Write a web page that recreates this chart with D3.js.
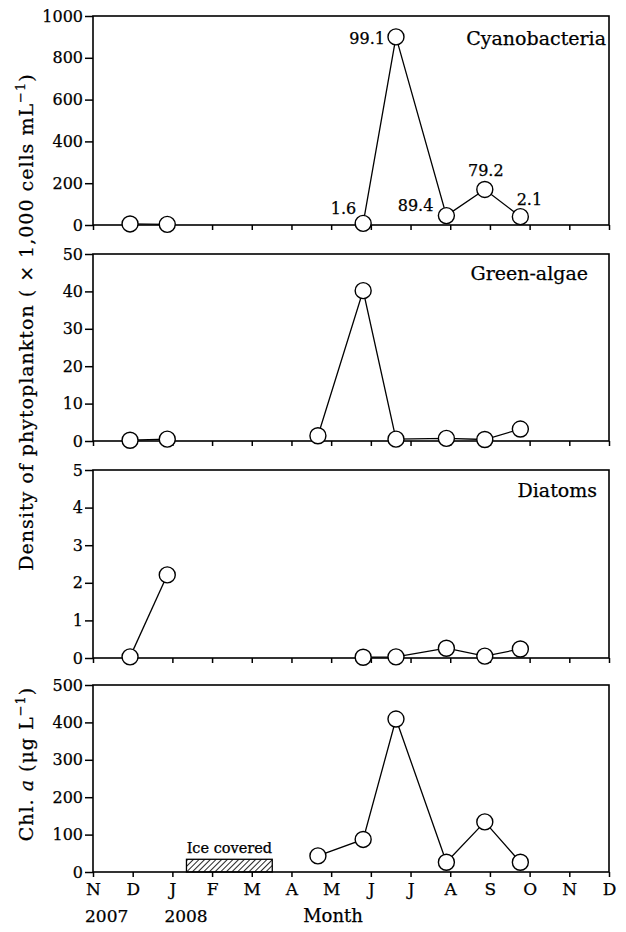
<!DOCTYPE html>
<html>
<head>
<meta charset="utf-8">
<script src="https://cdn.jsdelivr.net/npm/d3@7"></script>
<style>
body{margin:0;background:#fff;}
svg{display:block;}
text{font-family:"DejaVu Serif",serif;fill:#000;stroke:#000;stroke-width:0.25px;}
</style>
</head>
<body>
<div id="plot"></div>
<script>
// month ticks, Nov 2007 .. Dec 2008
var months = ['N','D','J','F','M','A','M','J','J','A','S','O','N','D'];
var years = [{i:0,label:'2007'},{i:2,label:'2008'}];

// sampling dates, and which sampling season they belong to (no line across winter)
var sampleDates = ['2007-11-29','2007-12-28','2008-04-21','2008-05-26','2008-06-20','2008-07-29','2008-08-28','2008-09-24'];
var season = [0,0,1,1,1,1,1,1];

var cyanobacteria = [5, 3, null, 8, 900, 45, 170, 40];
var greenAlgae = [0.2, 0.5, 1.4, 40.2, 0.5, 0.7, 0.4, 3.2];
var diatoms = [0.03, 2.21, null, 0.02, 0.03, 0.26, 0.05, 0.24];
var chlA = [null, null, 43, 87, 409, 26, 134, 26];

// % share of cyanobacteria written beside the points
var cyanoShare = [null, null, null, '1.6', '99.1', '89.4', '79.2', '2.1'];
var shareOffset = [null, null, null, [-7,-9,'end'], [-11,7,'end'], [-13,-5,'end'], [1,-13,'middle'], [9,-12,'middle']];

var iceCovered = ['2008-01-12','2008-03-17'];
var iceLevel = 34;

var panels = [
	{name:'Cyanobacteria', values:cyanobacteria, max:1000, step:200, top:16, bottom:225, titleX:606, titleY:45},
	{name:'Green-algae', values:greenAlgae, max:50, step:10, top:254, bottom:441, titleX:588, titleY:280},
	{name:'Diatoms', values:diatoms, max:5, step:1, top:470, bottom:658, titleX:597, titleY:497},
	{name:null, values:chlA, max:500, step:100, top:685, bottom:872}
];

var W = 626, H = 932,
	left = 93, right = 609;

// fractional month position counted from 1 Nov 2007
function monthPos(s){
	var p = s.split('-').map(Number);
	var dim = new Date(p[0], p[1], 0).getDate();
	return (p[0]-2007)*12 + (p[1]-11) + (p[2]-1)/dim;
}

var x = d3.scaleLinear().domain([0,13]).range([left,right]);

var svg = d3.select('#plot')
	.append('svg')
	.attr('width',W)
	.attr('height',H);

var defs = svg.append('defs');
defs.append('pattern')
	.attr('id','hatch')
	.attr('patternUnits','userSpaceOnUse')
	.attr('width',4).attr('height',4)
	.attr('patternTransform','rotate(45)')
	.append('line')
	.attr('x1',0).attr('y1',0).attr('x2',0).attr('y2',4)
	.attr('stroke','#000').attr('stroke-width',1.7);

panels.forEach(function(p, k){
	var y = d3.scaleLinear().domain([0,p.max]).range([p.bottom,p.top]);
	var g = svg.append('g');

	//ice bar goes under the axes
	if(k==3){
		var x0 = x(monthPos(iceCovered[0])), x1 = x(monthPos(iceCovered[1]));
		g.append('rect')
			.attr('x',x0).attr('y',y(iceLevel))
			.attr('width',x1-x0).attr('height',y(0)-y(iceLevel))
			.attr('fill','url(#hatch)')
			.attr('stroke','#000').attr('stroke-width',1.3);
		g.append('text')
			.attr('x',(x0+x1)/2).attr('y',y(iceLevel)-6)
			.attr('text-anchor','middle')
			.style('font-size','14.5px')
			.text('Ice covered');
	}

	var yAxis = d3.axisLeft(y)
		.tickValues(d3.range(0,p.max+p.step/2,p.step))
		.tickFormat(d3.format('d'))
		.tickSize(8).tickPadding(2);
	g.append('g')
		.attr('transform','translate('+left+',0)')
		.call(yAxis)
		.call(function(a){
			a.select('.domain').remove();
			a.selectAll('line').attr('stroke-width',1.5);
			a.selectAll('text').style('font-size','16px').style('font-family','"DejaVu Serif",serif');
		});

	var xAxis = d3.axisBottom(x)
		.tickValues(d3.range(0,14))
		.tickSize(5).tickPadding(6)
		.tickFormat(function(i){ return k==3 ? months[i] : ''; });
	g.append('g')
		.attr('transform','translate(0,'+p.bottom+')')
		.call(xAxis)
		.call(function(a){
			a.select('.domain').remove();
			a.selectAll('line').attr('stroke-width',1.5);
			a.selectAll('text').style('font-size','17px').style('font-family','"DejaVu Serif",serif');
		});

	//frame
	g.append('rect')
		.attr('x',left).attr('y',p.top)
		.attr('width',right-left).attr('height',p.bottom-p.top)
		.attr('fill','none').attr('stroke','#000').attr('stroke-width',1.6);

	var pts = sampleDates.map(function(d,i){
		return {x:monthPos(d), v:p.values[i], s:season[i], i:i};
	}).filter(function(d){ return d.v!=null; });

	var line = d3.line()
		.x(function(d){ return x(d.x); })
		.y(function(d){ return y(d.v); });

	d3.groups(pts, function(d){ return d.s; }).forEach(function(grp){
		g.append('path')
			.attr('d',line(grp[1]))
			.attr('fill','none')
			.attr('stroke','#000')
			.attr('stroke-width',1.3);
	});

	g.selectAll('circle')
		.data(pts)
		.enter().append('circle')
		.attr('cx',function(d){ return x(d.x); })
		.attr('cy',function(d){ return y(d.v); })
		.attr('r',8)
		.attr('fill','#fff')
		.attr('stroke','#000')
		.attr('stroke-width',1.4);

	if(p.name){
		g.append('text')
			.attr('x',p.titleX).attr('y',p.titleY)
			.attr('text-anchor','end')
			.style('font-size','19px')
			.text(p.name);
	}

	if(k==0){
		g.selectAll('.share')
			.data(pts.filter(function(d){ return cyanoShare[d.i]; }))
			.enter().append('text')
			.attr('class','share')
			.attr('x',function(d){ return x(d.x)+shareOffset[d.i][0]; })
			.attr('y',function(d){ return y(d.v)+shareOffset[d.i][1]; })
			.attr('text-anchor',function(d){ return shareOffset[d.i][2]; })
			.style('font-size','16px')
			.text(function(d){ return cyanoShare[d.i]; });
	}
});

//years under N and J
svg.selectAll('.year')
	.data(years)
	.enter().append('text')
	.attr('class','year')
	.attr('x',function(d){ return x(d.i)-8; })
	.attr('y',922)
	.style('font-size','17px')
	.text(function(d){ return d.label; });

svg.append('text')
	.attr('x',333).attr('y',922)
	.attr('text-anchor','middle')
	.style('font-size','18px')
	.text('Month');

//y labels
var yl = svg.append('text')
	.attr('transform','translate(33,322) rotate(-90)')
	.attr('text-anchor','middle')
	.style('font-size','19px')
	.style('letter-spacing','1px');
yl.append('tspan').text('Density of phytoplankton ( \u00d7 1,000 cells mL');
yl.append('tspan').attr('dy',-8).style('font-size','13px').text('\u22121');
yl.append('tspan').attr('dy',8).text(')');

var cl = svg.append('text')
	.attr('transform','translate(33,764) rotate(-90)')
	.attr('text-anchor','middle')
	.style('font-size','19px')
	.style('letter-spacing','1px');
cl.append('tspan').text('Chl. ');
cl.append('tspan').style('font-style','italic').text('a');
cl.append('tspan').text(' (\u03bcg L');
cl.append('tspan').attr('dy',-8).style('font-size','13px').text('\u22121');
cl.append('tspan').attr('dy',8).text(')');
</script>
</body>
</html>
